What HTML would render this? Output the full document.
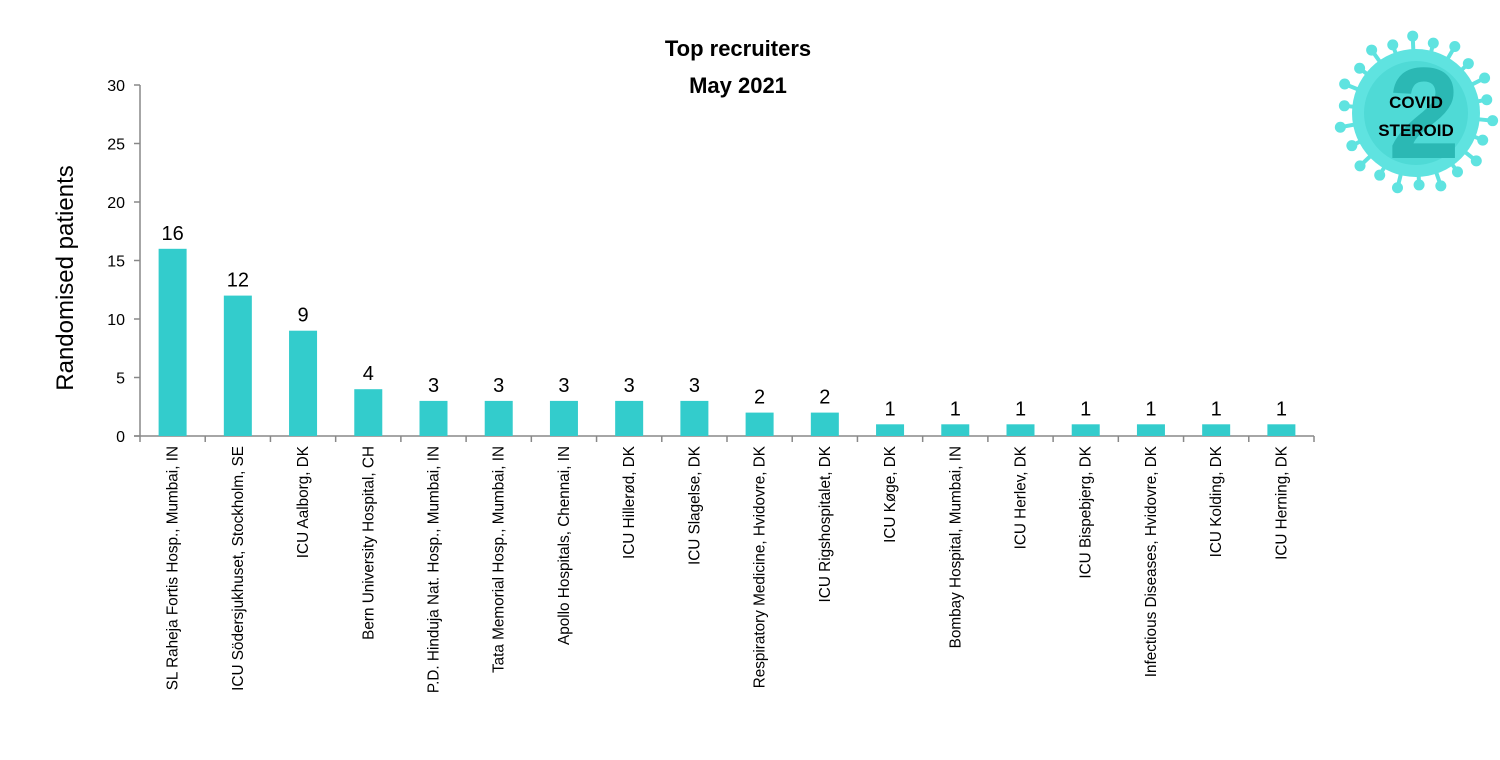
<!DOCTYPE html>
<html><head><meta charset="utf-8"><style>
html,body{margin:0;padding:0;background:#fff;}
svg{display:block;font-family:"Liberation Sans",sans-serif;}
</style></head><body>
<svg id="chart" width="1500" height="760">
<text x="738" y="56" text-anchor="middle" font-size="22" font-weight="bold">Top recruiters</text>
<text x="738" y="93" text-anchor="middle" font-size="22" font-weight="bold">May 2021</text>
<text transform="translate(73,278) rotate(-90)" text-anchor="middle" font-size="24">Randomised patients</text>
<g id="plot"></g>
<g id="logo"></g>
</svg>
<script>
const categories = ["SL Raheja Fortis Hosp., Mumbai, IN","ICU Södersjukhuset, Stockholm, SE","ICU Aalborg, DK","Bern University Hospital, CH","P.D. Hinduja Nat. Hosp., Mumbai, IN","Tata Memorial Hosp., Mumbai, IN","Apollo Hospitals, Chennai, IN","ICU Hillerød, DK","ICU Slagelse, DK","Respiratory Medicine, Hvidovre, DK","ICU Rigshospitalet, DK","ICU Køge, DK","Bombay Hospital, Mumbai, IN","ICU Herlev, DK","ICU Bispebjerg, DK","Infectious Diseases, Hvidovre, DK","ICU Kolding, DK","ICU Herning, DK"];
const values = [16,12,9,4,3,3,3,3,3,2,2,1,1,1,1,1,1,1];
const yTicks = [0,5,10,15,20,25,30];

const NS="http://www.w3.org/2000/svg";
const x0=140,x1=1314,yB=436,yT=85,yMax=30;
const band=(x1-x0)/categories.length;
const ys=v=>yB-(v/yMax)*(yB-yT);
const xc=i=>x0+band*(i+0.5);
const g=document.getElementById('plot');
function mk(t,a,p){const e=document.createElementNS(NS,t);for(const k in a)e.setAttribute(k,a[k]);(p||g).appendChild(e);return e;}

let ax=mk('line',{x1:x0,y1:yT,x2:x0,y2:yB,stroke:'#888','stroke-width':1.5});


let bx=mk('line',{x1:x0-6,y1:yB,x2:x1,y2:yB,stroke:'#888','stroke-width':1.5});


yTicks.forEach(t=>{
  const y=ys(t);
  mk('line',{x1:x0-6,y1:y,x2:x0,y2:y,stroke:'#888','stroke-width':1.5});
  const tx=mk('text',{x:x0-15,y:y+6,'text-anchor':'end','font-size':16});
  tx.textContent=t;
  
  
});
for(let i=0;i<=categories.length;i++){
  const x=x0+band*i;
  mk('line',{x1:x,y1:yB,x2:x,y2:yB+6,stroke:'#888','stroke-width':1.5});
}
categories.forEach((c,i)=>{
  const v=values[i],cx=xc(i),w=28;
  const r=mk('rect',{x:cx-w/2,y:ys(v),width:w,height:yB-ys(v),fill:'#33CCCC'});
  
  
  const vl=mk('text',{x:cx,y:ys(v)-9,'text-anchor':'middle','font-size':20});
  vl.textContent=v;
  
  
  const cl=mk('text',{transform:`translate(${cx+5},446) rotate(-90)`,'text-anchor':'end','font-size':15.3});
  cl.textContent=c;
  
  
});

// logo
const L=document.getElementById('logo');
const cx=1416,cy=113;
for(let k=0;k<22;k++){
  const a=k/22*2*Math.PI+0.1;
  const r2=k%2?72:77;
  const ex=cx+Math.cos(a)*r2,ey=cy+Math.sin(a)*r2;
  mk('line',{x1:cx,y1:cy,x2:ex,y2:ey,stroke:'#5FE3E0','stroke-width':4},L);
  mk('circle',{cx:ex,cy:ey,r:5.5,fill:'#5FE3E0'},L);
}
mk('circle',{cx:cx,cy:cy,r:64,fill:'#5FE3E0'},L);
mk('circle',{cx:cx,cy:cy,r:52,fill:'#4FDAD6'},L);
const two=mk('text',{x:cx+8,y:cy+45,'text-anchor':'middle','font-size':130,'font-weight':'bold',fill:'#2BB8B4'},L);
two.textContent='2';
const t1=mk('text',{x:cx,y:cy-5,'text-anchor':'middle','font-size':17,'font-weight':'bold',fill:'#000'},L);
t1.textContent='COVID';
const t2=mk('text',{x:cx,y:cy+23,'text-anchor':'middle','font-size':17,'font-weight':'bold',fill:'#000'},L);
t2.textContent='STEROID';
</script>
</body></html>
